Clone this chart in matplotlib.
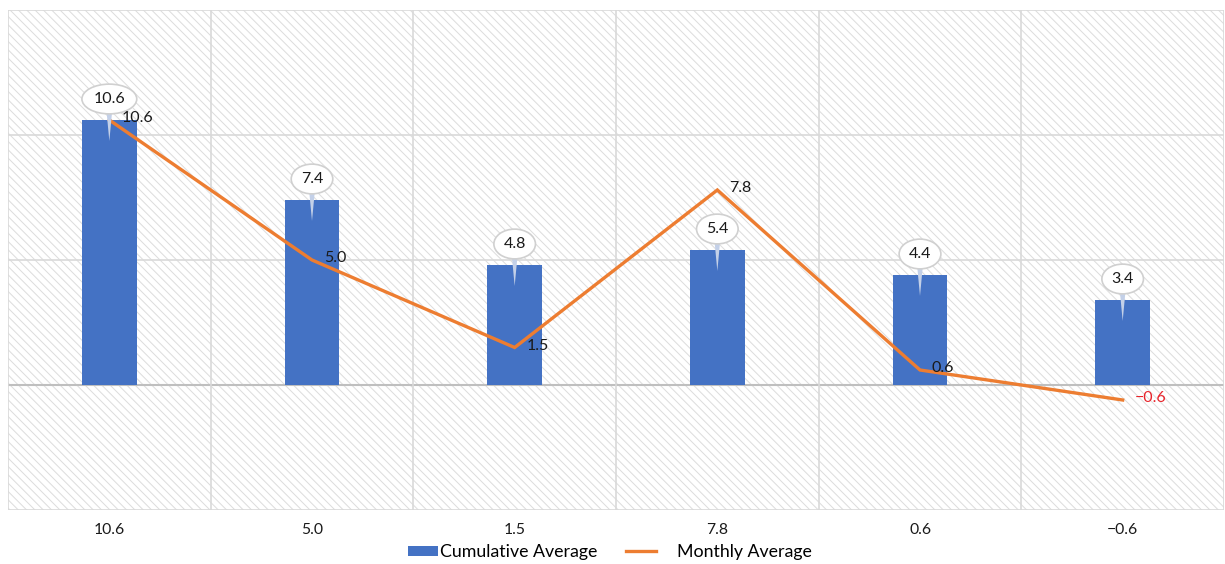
import matplotlib
matplotlib.use("Agg")
import matplotlib.pyplot as plt
from matplotlib.patches import Rectangle
from matplotlib.lines import Line2D
from matplotlib.legend_handler import HandlerBase
from matplotlib.transforms import offset_copy

plt.rcParams['font.family'] = ['Lato', 'DejaVu Sans']
plt.rcParams['hatch.linewidth'] = 0.7
plt.rcParams['hatch.color'] = '#dcdcdc'

# Data
categories = ["10.6", "5.0", "1.5", "7.8", "0.6", "\u22120.6"]
cumulative_avg = [10.6, 7.4, 4.8, 5.4, 4.4, 3.4]
monthly_avg = [10.6, 5.0, 1.5, 7.8, 0.6, -0.6]

BAR_COLOR = '#4472C4'
LINE_COLOR = '#ED7D31'

fig = plt.figure(figsize=(12.25, 5.64), dpi=100)
ax = fig.add_axes([8 / 1225, 1 - 510 / 564, 1216 / 1225, 500 / 564])

n = len(categories)
x = list(range(n))
ax.set_xlim(-0.5, n - 0.5)
ax.set_ylim(-5, 15)

# hatched plot-area background
ax.add_patch(Rectangle((0, 0), 1, 1, transform=ax.transAxes, facecolor='white',
                       edgecolor='#dcdcdc', hatch='\\\\\\\\', linewidth=0, zorder=0))

# gridlines
for yv in [-5, 5, 10, 15]:
    ax.axhline(yv, color='#d9d9d9', lw=1.2, zorder=1)
ax.axhline(0, color='#bfbfbf', lw=1.5, zorder=1)
for xv in [i - 0.5 for i in range(n + 1)]:
    ax.axvline(xv, color='#d9d9d9', lw=1.2, zorder=1)

ax.bar(x, cumulative_avg, width=0.27, color=BAR_COLOR, zorder=2)
ax.plot(x, monthly_avg, color=LINE_COLOR, lw=2.4, zorder=4, solid_joinstyle='miter')

# bubble callouts on bars, with a tapered tail pointing into the bar
for xi, v in zip(x, cumulative_avg):
    txt_tr = offset_copy(ax.transData, fig=fig, x=0, y=21, units='dots')
    tip_tr = offset_copy(ax.transData, fig=fig, x=0, y=-21, units='dots')
    base_tr = offset_copy(ax.transData, fig=fig, x=0, y=12, units='dots')
    ax.annotate("", xy=(xi, v), xycoords=tip_tr,
                xytext=(xi, v), textcoords=base_tr,
                arrowprops=dict(arrowstyle='wedge,tail_width=0.45,shrink_factor=0.5',
                                fc='#c3d0e8', ec='none', shrinkA=0, shrinkB=0),
                zorder=5)
    ax.text(xi, v, f"{v:.1f}", transform=txt_tr, ha='center', va='center',
            fontsize=11.5, color='#1a1a1a', zorder=6,
            bbox=dict(boxstyle='ellipse,pad=0.22', fc='white', ec='#d0d0d0', lw=1.2))

# line value labels
lbl_tr = offset_copy(ax.transData, fig=fig, x=12, y=2, units='dots')
for xi, v in zip(x, monthly_avg):
    if v < 0:
        s, c = f"\u2212{abs(v):.1f}", '#e8242b'
    else:
        s, c = f"{v:.1f}", '#1a1a1a'
    ax.text(xi, v, s, transform=lbl_tr, ha='left', va='center',
            fontsize=11.5, color=c, zorder=7)

ax.set_xticks(x)
ax.set_xticklabels(categories, fontsize=11.3, color='#1a1a1a')
ax.tick_params(axis='x', length=0, pad=9)
ax.set_yticks([])
for s in ax.spines.values():
    s.set_visible(False)

KEY_W = 22  # legend key length, points


# legend keys: the bar swatch sits at the right of its slot, the line key at the left
class RightSwatch(HandlerBase):
    def create_artists(self, legend, orig_handle, xdescent, ydescent, width, height,
                       fontsize, trans):
        r = Rectangle((width - xdescent - KEY_W, -ydescent + height * 0.5 - 3.6), KEY_W, 7.2,
                      facecolor=BAR_COLOR, edgecolor='none', transform=trans)
        return [r]


class LeftLine(HandlerBase):
    def create_artists(self, legend, orig_handle, xdescent, ydescent, width, height,
                       fontsize, trans):
        y0 = -ydescent + height * 0.5
        ln = Line2D([-xdescent, -xdescent + KEY_W], [y0, y0], color=LINE_COLOR, lw=2.4,
                    transform=trans)
        return [ln]


h_bar = Rectangle((0, 0), 1, 1, color=BAR_COLOR)
h_line = Line2D([0], [0], color=LINE_COLOR, lw=2.4)
fig.legend([h_bar, h_line], ['Cumulative Average', 'Monthly Average'], loc='lower center',
           bbox_to_anchor=(0.49, -0.022), ncol=2, frameon=False, fontsize=12.8,
           handlelength=2.8, handleheight=0.7, handletextpad=0.1, columnspacing=1.6,
           handler_map={h_bar: RightSwatch(), h_line: LeftLine()})

fig.savefig('out.png', dpi=100, facecolor='white')
